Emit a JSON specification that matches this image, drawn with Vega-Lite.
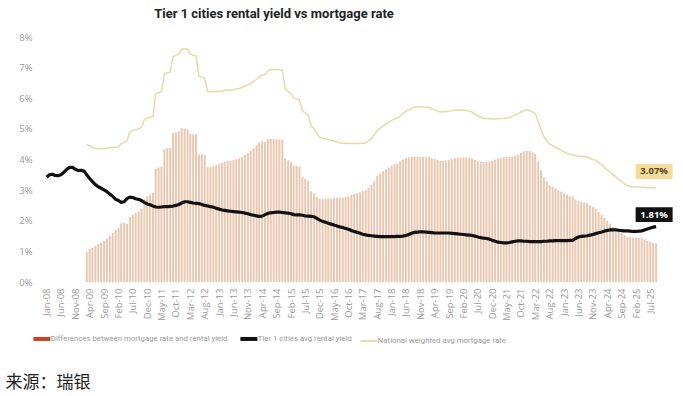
{
  "$schema": "https://vega.github.io/schema/vega-lite/v6.json",
  "width": 634,
  "height": 245,
  "autosize": {"type": "none"},
  "padding": {"left": 36, "top": 37, "right": 13, "bottom": 114},
  "background": "white",
  "title": {
    "text": "Tier 1 cities rental yield vs mortgage rate",
    "font": "Roboto",
    "fontSize": 13,
    "fontWeight": "bold",
    "color": "#222222",
    "anchor": "middle",
    "dx": -79,
    "offset": 11
  },
  "config": {
    "view": {"stroke": null},
    "axis": {"grid": false, "domain": false, "ticks": false, "labelColor": "#9a9a9a", "labelFont": "Open Sans", "labelFontSize": 9.5},
    "axisY": {"labelOverlap": false, "labelPadding": 4, "labelSeparation": 0, "labelBound": false}
  },
  "datasets": {
    "main": [
      {"date":"2008-01","yield":3.42},{"date":"2008-02","yield":3.50},{"date":"2008-03","yield":3.52},{"date":"2008-04","yield":3.48},{"date":"2008-05","yield":3.47},{"date":"2008-06","yield":3.50},{"date":"2008-07","yield":3.58},{"date":"2008-08","yield":3.68},{"date":"2008-09","yield":3.74},{"date":"2008-10","yield":3.74},{"date":"2008-11","yield":3.68},{"date":"2008-12","yield":3.64},
      {"date":"2009-01","yield":3.65},{"date":"2009-02","yield":3.62},
      {"date":"2009-03","yield":3.50,"mortgage":4.48,"gap":0.98},{"date":"2009-04","yield":3.38,"mortgage":4.45,"gap":1.07},{"date":"2009-05","yield":3.28,"mortgage":4.40,"gap":1.12},{"date":"2009-06","yield":3.18,"mortgage":4.36,"gap":1.18},{"date":"2009-07","yield":3.11,"mortgage":4.35,"gap":1.24},{"date":"2009-08","yield":3.06,"mortgage":4.35,"gap":1.29},{"date":"2009-09","yield":3.01,"mortgage":4.36,"gap":1.35},{"date":"2009-10","yield":2.95,"mortgage":4.37,"gap":1.42},{"date":"2009-11","yield":2.87,"mortgage":4.38,"gap":1.51},{"date":"2009-12","yield":2.80,"mortgage":4.40,"gap":1.60},
      {"date":"2010-01","yield":2.70,"mortgage":4.40,"gap":1.70},{"date":"2010-02","yield":2.66,"mortgage":4.42,"gap":1.76},{"date":"2010-03","yield":2.60,"mortgage":4.52,"gap":1.92},{"date":"2010-04","yield":2.62,"mortgage":4.55,"gap":1.93},{"date":"2010-05","yield":2.72,"mortgage":4.62,"gap":1.90},{"date":"2010-06","yield":2.77,"mortgage":4.90,"gap":2.13},{"date":"2010-07","yield":2.76,"mortgage":4.95,"gap":2.19},{"date":"2010-08","yield":2.72,"mortgage":4.97,"gap":2.25},{"date":"2010-09","yield":2.70,"mortgage":5.00,"gap":2.30},{"date":"2010-10","yield":2.66,"mortgage":5.05,"gap":2.39},{"date":"2010-11","yield":2.60,"mortgage":5.30,"gap":2.70},{"date":"2010-12","yield":2.55,"mortgage":5.35,"gap":2.80},
      {"date":"2011-01","yield":2.52,"mortgage":5.37,"gap":2.85},{"date":"2011-02","yield":2.48,"mortgage":5.40,"gap":2.92},{"date":"2011-03","yield":2.45,"mortgage":6.15,"gap":3.70},{"date":"2011-04","yield":2.44,"mortgage":6.18,"gap":3.74},{"date":"2011-05","yield":2.45,"mortgage":6.22,"gap":3.77},{"date":"2011-06","yield":2.46,"mortgage":6.80,"gap":4.34},{"date":"2011-07","yield":2.46,"mortgage":6.83,"gap":4.37},{"date":"2011-08","yield":2.47,"mortgage":6.85,"gap":4.38},{"date":"2011-09","yield":2.48,"mortgage":7.35,"gap":4.87},{"date":"2011-10","yield":2.50,"mortgage":7.40,"gap":4.90},{"date":"2011-11","yield":2.53,"mortgage":7.45,"gap":4.92},{"date":"2011-12","yield":2.58,"mortgage":7.60,"gap":5.02},
      {"date":"2012-01","yield":2.62,"mortgage":7.62,"gap":5.00},{"date":"2012-02","yield":2.62,"mortgage":7.60,"gap":4.98},{"date":"2012-03","yield":2.60,"mortgage":7.45,"gap":4.85},{"date":"2012-04","yield":2.58,"mortgage":7.40,"gap":4.82},{"date":"2012-05","yield":2.57,"mortgage":7.38,"gap":4.81},{"date":"2012-06","yield":2.56,"mortgage":6.72,"gap":4.16},{"date":"2012-07","yield":2.53,"mortgage":6.70,"gap":4.17},{"date":"2012-08","yield":2.50,"mortgage":6.65,"gap":4.15},{"date":"2012-09","yield":2.48,"mortgage":6.22,"gap":3.74},{"date":"2012-10","yield":2.46,"mortgage":6.21,"gap":3.75},{"date":"2012-11","yield":2.44,"mortgage":6.22,"gap":3.78},{"date":"2012-12","yield":2.41,"mortgage":6.22,"gap":3.81},
      {"date":"2013-01","yield":2.38,"mortgage":6.23,"gap":3.85},{"date":"2013-02","yield":2.35,"mortgage":6.24,"gap":3.89},{"date":"2013-03","yield":2.34,"mortgage":6.26,"gap":3.92},{"date":"2013-04","yield":2.32,"mortgage":6.27,"gap":3.95},{"date":"2013-05","yield":2.31,"mortgage":6.27,"gap":3.96},{"date":"2013-06","yield":2.30,"mortgage":6.28,"gap":3.98},{"date":"2013-07","yield":2.29,"mortgage":6.30,"gap":4.01},{"date":"2013-08","yield":2.28,"mortgage":6.32,"gap":4.04},{"date":"2013-09","yield":2.27,"mortgage":6.35,"gap":4.08},{"date":"2013-10","yield":2.25,"mortgage":6.40,"gap":4.15},{"date":"2013-11","yield":2.23,"mortgage":6.45,"gap":4.22},{"date":"2013-12","yield":2.20,"mortgage":6.48,"gap":4.28},
      {"date":"2014-01","yield":2.18,"mortgage":6.55,"gap":4.37},{"date":"2014-02","yield":2.16,"mortgage":6.62,"gap":4.46},{"date":"2014-03","yield":2.14,"mortgage":6.70,"gap":4.56},{"date":"2014-04","yield":2.15,"mortgage":6.75,"gap":4.60},{"date":"2014-05","yield":2.20,"mortgage":6.78,"gap":4.58},{"date":"2014-06","yield":2.24,"mortgage":6.90,"gap":4.66},{"date":"2014-07","yield":2.26,"mortgage":6.93,"gap":4.67},{"date":"2014-08","yield":2.27,"mortgage":6.94,"gap":4.67},{"date":"2014-09","yield":2.28,"mortgage":6.94,"gap":4.66},{"date":"2014-10","yield":2.28,"mortgage":6.93,"gap":4.65},{"date":"2014-11","yield":2.27,"mortgage":6.92,"gap":4.65},{"date":"2014-12","yield":2.26,"mortgage":6.30,"gap":4.04},
      {"date":"2015-01","yield":2.25,"mortgage":6.22,"gap":3.97},{"date":"2015-02","yield":2.23,"mortgage":6.15,"gap":3.92},{"date":"2015-03","yield":2.20,"mortgage":6.00,"gap":3.80},{"date":"2015-04","yield":2.19,"mortgage":5.98,"gap":3.79},{"date":"2015-05","yield":2.19,"mortgage":5.95,"gap":3.76},{"date":"2015-06","yield":2.18,"mortgage":5.60,"gap":3.42},{"date":"2015-07","yield":2.16,"mortgage":5.52,"gap":3.36},{"date":"2015-08","yield":2.15,"mortgage":5.45,"gap":3.30},{"date":"2015-09","yield":2.14,"mortgage":5.10,"gap":2.96},{"date":"2015-10","yield":2.13,"mortgage":5.02,"gap":2.89},{"date":"2015-11","yield":2.08,"mortgage":4.85,"gap":2.77},{"date":"2015-12","yield":2.02,"mortgage":4.73,"gap":2.71},
      {"date":"2016-01","yield":1.98,"mortgage":4.70,"gap":2.72},{"date":"2016-02","yield":1.95,"mortgage":4.67,"gap":2.72},{"date":"2016-03","yield":1.92,"mortgage":4.65,"gap":2.73},{"date":"2016-04","yield":1.89,"mortgage":4.62,"gap":2.73},{"date":"2016-05","yield":1.86,"mortgage":4.60,"gap":2.74},{"date":"2016-06","yield":1.83,"mortgage":4.58,"gap":2.75},{"date":"2016-07","yield":1.80,"mortgage":4.55,"gap":2.75},{"date":"2016-08","yield":1.78,"mortgage":4.53,"gap":2.75},{"date":"2016-09","yield":1.75,"mortgage":4.53,"gap":2.78},{"date":"2016-10","yield":1.72,"mortgage":4.52,"gap":2.80},{"date":"2016-11","yield":1.68,"mortgage":4.52,"gap":2.84},{"date":"2016-12","yield":1.65,"mortgage":4.52,"gap":2.87},
      {"date":"2017-01","yield":1.62,"mortgage":4.52,"gap":2.90},{"date":"2017-02","yield":1.59,"mortgage":4.52,"gap":2.93},{"date":"2017-03","yield":1.56,"mortgage":4.53,"gap":2.97},{"date":"2017-04","yield":1.54,"mortgage":4.54,"gap":3.00},{"date":"2017-05","yield":1.52,"mortgage":4.60,"gap":3.08},{"date":"2017-06","yield":1.51,"mortgage":4.68,"gap":3.17},{"date":"2017-07","yield":1.50,"mortgage":4.80,"gap":3.30},{"date":"2017-08","yield":1.49,"mortgage":4.95,"gap":3.46},{"date":"2017-09","yield":1.48,"mortgage":5.02,"gap":3.54},{"date":"2017-10","yield":1.48,"mortgage":5.10,"gap":3.62},{"date":"2017-11","yield":1.48,"mortgage":5.15,"gap":3.67},{"date":"2017-12","yield":1.48,"mortgage":5.22,"gap":3.74},
      {"date":"2018-01","yield":1.48,"mortgage":5.28,"gap":3.80},{"date":"2018-02","yield":1.48,"mortgage":5.32,"gap":3.84},{"date":"2018-03","yield":1.49,"mortgage":5.35,"gap":3.86},{"date":"2018-04","yield":1.49,"mortgage":5.42,"gap":3.93},{"date":"2018-05","yield":1.50,"mortgage":5.50,"gap":4.00},{"date":"2018-06","yield":1.52,"mortgage":5.57,"gap":4.05},{"date":"2018-07","yield":1.55,"mortgage":5.62,"gap":4.07},{"date":"2018-08","yield":1.59,"mortgage":5.67,"gap":4.08},{"date":"2018-09","yield":1.62,"mortgage":5.71,"gap":4.09},{"date":"2018-10","yield":1.63,"mortgage":5.72,"gap":4.09},{"date":"2018-11","yield":1.64,"mortgage":5.72,"gap":4.08},{"date":"2018-12","yield":1.64,"mortgage":5.72,"gap":4.08},
      {"date":"2019-01","yield":1.63,"mortgage":5.71,"gap":4.08},{"date":"2019-02","yield":1.62,"mortgage":5.70,"gap":4.08},{"date":"2019-03","yield":1.61,"mortgage":5.65,"gap":4.04},{"date":"2019-04","yield":1.60,"mortgage":5.62,"gap":4.02},{"date":"2019-05","yield":1.60,"mortgage":5.58,"gap":3.98},{"date":"2019-06","yield":1.60,"mortgage":5.55,"gap":3.95},{"date":"2019-07","yield":1.60,"mortgage":5.56,"gap":3.96},{"date":"2019-08","yield":1.60,"mortgage":5.57,"gap":3.97},{"date":"2019-09","yield":1.60,"mortgage":5.58,"gap":3.98},{"date":"2019-10","yield":1.59,"mortgage":5.60,"gap":4.01},{"date":"2019-11","yield":1.58,"mortgage":5.62,"gap":4.04},{"date":"2019-12","yield":1.57,"mortgage":5.62,"gap":4.05},
      {"date":"2020-01","yield":1.56,"mortgage":5.62,"gap":4.06},{"date":"2020-02","yield":1.55,"mortgage":5.61,"gap":4.06},{"date":"2020-03","yield":1.54,"mortgage":5.60,"gap":4.06},{"date":"2020-04","yield":1.53,"mortgage":5.58,"gap":4.05},{"date":"2020-05","yield":1.52,"mortgage":5.55,"gap":4.03},{"date":"2020-06","yield":1.50,"mortgage":5.48,"gap":3.98},{"date":"2020-07","yield":1.47,"mortgage":5.42,"gap":3.95},{"date":"2020-08","yield":1.45,"mortgage":5.38,"gap":3.93},{"date":"2020-09","yield":1.43,"mortgage":5.35,"gap":3.92},{"date":"2020-10","yield":1.42,"mortgage":5.34,"gap":3.92},{"date":"2020-11","yield":1.40,"mortgage":5.33,"gap":3.93},{"date":"2020-12","yield":1.36,"mortgage":5.32,"gap":3.96},
      {"date":"2021-01","yield":1.33,"mortgage":5.32,"gap":3.99},{"date":"2021-02","yield":1.30,"mortgage":5.33,"gap":4.03},{"date":"2021-03","yield":1.29,"mortgage":5.34,"gap":4.05},{"date":"2021-04","yield":1.28,"mortgage":5.35,"gap":4.07},{"date":"2021-05","yield":1.28,"mortgage":5.35,"gap":4.07},{"date":"2021-06","yield":1.29,"mortgage":5.37,"gap":4.08},{"date":"2021-07","yield":1.31,"mortgage":5.40,"gap":4.09},{"date":"2021-08","yield":1.33,"mortgage":5.45,"gap":4.12},{"date":"2021-09","yield":1.34,"mortgage":5.50,"gap":4.16},{"date":"2021-10","yield":1.34,"mortgage":5.55,"gap":4.21},{"date":"2021-11","yield":1.33,"mortgage":5.60,"gap":4.27},{"date":"2021-12","yield":1.33,"mortgage":5.62,"gap":4.29},
      {"date":"2022-01","yield":1.32,"mortgage":5.60,"gap":4.28},{"date":"2022-02","yield":1.32,"mortgage":5.55,"gap":4.23},{"date":"2022-03","yield":1.32,"mortgage":5.50,"gap":4.18},{"date":"2022-04","yield":1.32,"mortgage":5.25,"gap":3.93},{"date":"2022-05","yield":1.32,"mortgage":4.97,"gap":3.65},{"date":"2022-06","yield":1.33,"mortgage":4.75,"gap":3.42},{"date":"2022-07","yield":1.33,"mortgage":4.62,"gap":3.29},{"date":"2022-08","yield":1.34,"mortgage":4.50,"gap":3.16},{"date":"2022-09","yield":1.34,"mortgage":4.45,"gap":3.11},{"date":"2022-10","yield":1.35,"mortgage":4.40,"gap":3.05},{"date":"2022-11","yield":1.35,"mortgage":4.35,"gap":3.00},{"date":"2022-12","yield":1.35,"mortgage":4.30,"gap":2.95},
      {"date":"2023-01","yield":1.35,"mortgage":4.25,"gap":2.90},{"date":"2023-02","yield":1.35,"mortgage":4.20,"gap":2.85},{"date":"2023-03","yield":1.36,"mortgage":4.17,"gap":2.81},{"date":"2023-04","yield":1.36,"mortgage":4.15,"gap":2.79},{"date":"2023-05","yield":1.42,"mortgage":4.12,"gap":2.70},{"date":"2023-06","yield":1.47,"mortgage":4.11,"gap":2.64},{"date":"2023-07","yield":1.49,"mortgage":4.10,"gap":2.61},{"date":"2023-08","yield":1.50,"mortgage":4.10,"gap":2.60},{"date":"2023-09","yield":1.51,"mortgage":4.08,"gap":2.57},{"date":"2023-10","yield":1.53,"mortgage":4.04,"gap":2.51},{"date":"2023-11","yield":1.55,"mortgage":4.00,"gap":2.45},{"date":"2023-12","yield":1.58,"mortgage":3.98,"gap":2.40},
      {"date":"2024-01","yield":1.61,"mortgage":3.90,"gap":2.29},{"date":"2024-02","yield":1.63,"mortgage":3.83,"gap":2.20},{"date":"2024-03","yield":1.66,"mortgage":3.75,"gap":2.09},{"date":"2024-04","yield":1.68,"mortgage":3.67,"gap":1.99},{"date":"2024-05","yield":1.70,"mortgage":3.60,"gap":1.90},{"date":"2024-06","yield":1.70,"mortgage":3.50,"gap":1.80},{"date":"2024-07","yield":1.70,"mortgage":3.44,"gap":1.74},{"date":"2024-08","yield":1.69,"mortgage":3.35,"gap":1.66},{"date":"2024-09","yield":1.68,"mortgage":3.28,"gap":1.60},{"date":"2024-10","yield":1.67,"mortgage":3.20,"gap":1.53},{"date":"2024-11","yield":1.67,"mortgage":3.14,"gap":1.47},{"date":"2024-12","yield":1.66,"mortgage":3.12,"gap":1.46},
      {"date":"2025-01","yield":1.65,"mortgage":3.10,"gap":1.45},{"date":"2025-02","yield":1.65,"mortgage":3.10,"gap":1.45},{"date":"2025-03","yield":1.66,"mortgage":3.10,"gap":1.44},{"date":"2025-04","yield":1.67,"mortgage":3.10,"gap":1.43},{"date":"2025-05","yield":1.70,"mortgage":3.09,"gap":1.39},{"date":"2025-06","yield":1.73,"mortgage":3.08,"gap":1.35},{"date":"2025-07","yield":1.76,"mortgage":3.08,"gap":1.32},{"date":"2025-08","yield":1.79,"mortgage":3.07,"gap":1.28},{"date":"2025-09","yield":1.81,"mortgage":3.07,"gap":1.26}
    ],
    "ann": [
      {"date":"2025-09","value":3.07,"label":"3.07%","k":"m"},
      {"date":"2025-09","value":1.81,"label":"1.81%","k":"y"}
    ]
  },
  "encoding": {
    "x": {
      "field": "date",
      "type": "temporal",
      "scale": {"type": "utc", "domain": [{"year":2007,"month":11,"date":3,"utc":true},{"year":2025,"month":12,"date":4,"utc":true}]},
      "axis": {
        "format": "%b-%y",
        "labelAngle": -90,
        "labelPadding": 6,
        "labelFlush": false,
        "labelOverlap": false,
        "values": [
          {"year":2008,"month":1,"date":1,"utc":true},{"year":2008,"month":6,"date":1,"utc":true},{"year":2008,"month":11,"date":1,"utc":true},
          {"year":2009,"month":4,"date":1,"utc":true},{"year":2009,"month":9,"date":1,"utc":true},{"year":2010,"month":2,"date":1,"utc":true},
          {"year":2010,"month":7,"date":1,"utc":true},{"year":2010,"month":12,"date":1,"utc":true},{"year":2011,"month":5,"date":1,"utc":true},
          {"year":2011,"month":10,"date":1,"utc":true},{"year":2012,"month":3,"date":1,"utc":true},{"year":2012,"month":8,"date":1,"utc":true},
          {"year":2013,"month":1,"date":1,"utc":true},{"year":2013,"month":6,"date":1,"utc":true},{"year":2013,"month":11,"date":1,"utc":true},
          {"year":2014,"month":4,"date":1,"utc":true},{"year":2014,"month":9,"date":1,"utc":true},{"year":2015,"month":2,"date":1,"utc":true},
          {"year":2015,"month":7,"date":1,"utc":true},{"year":2015,"month":12,"date":1,"utc":true},{"year":2016,"month":5,"date":1,"utc":true},
          {"year":2016,"month":10,"date":1,"utc":true},{"year":2017,"month":3,"date":1,"utc":true},{"year":2017,"month":8,"date":1,"utc":true},
          {"year":2018,"month":1,"date":1,"utc":true},{"year":2018,"month":6,"date":1,"utc":true},{"year":2018,"month":11,"date":1,"utc":true},
          {"year":2019,"month":4,"date":1,"utc":true},{"year":2019,"month":9,"date":1,"utc":true},{"year":2020,"month":2,"date":1,"utc":true},
          {"year":2020,"month":7,"date":1,"utc":true},{"year":2020,"month":12,"date":1,"utc":true},{"year":2021,"month":5,"date":1,"utc":true},
          {"year":2021,"month":10,"date":1,"utc":true},{"year":2022,"month":3,"date":1,"utc":true},{"year":2022,"month":8,"date":1,"utc":true},
          {"year":2023,"month":1,"date":1,"utc":true},{"year":2023,"month":6,"date":1,"utc":true},{"year":2023,"month":11,"date":1,"utc":true},
          {"year":2024,"month":4,"date":1,"utc":true},{"year":2024,"month":9,"date":1,"utc":true},{"year":2025,"month":2,"date":1,"utc":true},
          {"year":2025,"month":7,"date":1,"utc":true}
        ],
        "title": "来源：瑞银",
        "titleFont": "Noto Sans CJK SC",
        "titleFontSize": 17,
        "titleFontWeight": "normal",
        "titleColor": "#222222",
        "titleAnchor": "start",
        "titleAlign": "left",
        "titleBaseline": "middle",
        "titleAngle": 0,
        "titleX": -31,
        "titleY": 100
      }
    }
  },
  "layer": [
    {
      "data": {"name": "main"},
      "mark": {"type": "bar", "size": 2, "color": "#e9c8b2"},
      "encoding": {
        "y": {"field": "gap", "type": "quantitative", "scale": {"domain": [0, 8], "nice": false}, "axis": {"values": [0,1,2,3,4,5,6,7,8], "labelOverlap": false, "labelExpr": "datum.value + '%'", "title": null}, "title": null}
      }
    },
    {
      "data": {"name": "main"},
      "mark": {"type": "line", "strokeWidth": 3.2, "strokeJoin": "round"},
      "encoding": {
        "y": {"field": "yield", "type": "quantitative", "scale": {"domain": [0, 8], "nice": false}, "axis": {"values": [0,1,2,3,4,5,6,7,8], "labelOverlap": false, "labelExpr": "datum.value + '%'", "title": null}, "title": null},
        "color": {
          "datum": "Tier 1 cities avg rental yield",
          "scale": {
            "domain": ["Differences between mortgage rate and rental yield", "Tier 1 cities avg rental yield", "National weighted avg mortgage rate"],
            "range": ["#c8431f", "#111111", "#e6dba6"]
          },
          "legend": {
            "orient": "none",
            "legendX": 2,
            "legendY": 298,
            "direction": "horizontal",
            "title": null,
            "symbolType": "stroke",
            "symbolSize": 289,
            "symbolStrokeWidth": 4,
            "symbolOpacity": 1,
            "labelFont": "Roboto",
            "labelFontSize": 7.8,
            "labelColor": "#9a9a9a",
            "labelOffset": 5,
            "columnPadding": 4,
            "labelLimit": 300,
            "encode": {"symbols": {"update": {
              "strokeWidth": {"signal": "datum.value === 'National weighted avg mortgage rate' ? 2 : 4"}
            }}}
          }
        }
      }
    },
    {
      "data": {"name": "main"},
      "mark": {"type": "line", "strokeWidth": 1.5},
      "encoding": {
        "y": {"field": "mortgage", "type": "quantitative", "scale": {"domain": [0, 8], "nice": false}, "axis": {"values": [0,1,2,3,4,5,6,7,8], "labelOverlap": false, "labelExpr": "datum.value + '%'", "title": null}, "title": null},
        "color": {"datum": "National weighted avg mortgage rate"}
      }
    },
    {
      "data": {"name": "ann"},
      "transform": [{"filter": "datum.k === 'm'"}],
      "mark": {"type": "point", "shape": "M-1,-0.4H1V0.4H-1Z", "size": 1369, "filled": true, "color": "#f3dc9c", "opacity": 1, "strokeWidth": 0, "xOffset": -2, "yOffset": -16.5},
      "encoding": {"y": {"field": "value", "type": "quantitative", "scale": {"domain": [0, 8], "nice": false}, "axis": {"values": [0,1,2,3,4,5,6,7,8], "labelOverlap": false, "labelExpr": "datum.value + '%'", "title": null}, "title": null}}
    },
    {
      "data": {"name": "ann"},
      "transform": [{"filter": "datum.k === 'm'"}],
      "mark": {"type": "text", "font": "Open Sans", "fontWeight": "bold", "fontSize": 9.5, "color": "#5a4520", "dx": -2, "dy": -16.5, "align": "center", "baseline": "middle"},
      "encoding": {"y": {"field": "value", "type": "quantitative", "scale": {"domain": [0, 8], "nice": false}, "axis": {"values": [0,1,2,3,4,5,6,7,8], "labelOverlap": false, "labelExpr": "datum.value + '%'", "title": null}, "title": null}, "text": {"field": "label"}}
    },
    {
      "data": {"name": "ann"},
      "transform": [{"filter": "datum.k === 'y'"}],
      "mark": {"type": "point", "shape": "M-1,-0.4H1V0.4H-1Z", "size": 1369, "filled": true, "color": "#111111", "opacity": 1, "strokeWidth": 0, "xOffset": -2, "yOffset": -12},
      "encoding": {"y": {"field": "value", "type": "quantitative", "scale": {"domain": [0, 8], "nice": false}, "axis": {"values": [0,1,2,3,4,5,6,7,8], "labelOverlap": false, "labelExpr": "datum.value + '%'", "title": null}, "title": null}}
    },
    {
      "data": {"name": "ann"},
      "transform": [{"filter": "datum.k === 'y'"}],
      "mark": {"type": "text", "font": "Open Sans", "fontWeight": "bold", "fontSize": 9.5, "color": "#ffffff", "dx": -2, "dy": -12, "align": "center", "baseline": "middle"},
      "encoding": {"y": {"field": "value", "type": "quantitative", "scale": {"domain": [0, 8], "nice": false}, "axis": {"values": [0,1,2,3,4,5,6,7,8], "labelOverlap": false, "labelExpr": "datum.value + '%'", "title": null}, "title": null}, "text": {"field": "label"}}
    }
  ]
}
